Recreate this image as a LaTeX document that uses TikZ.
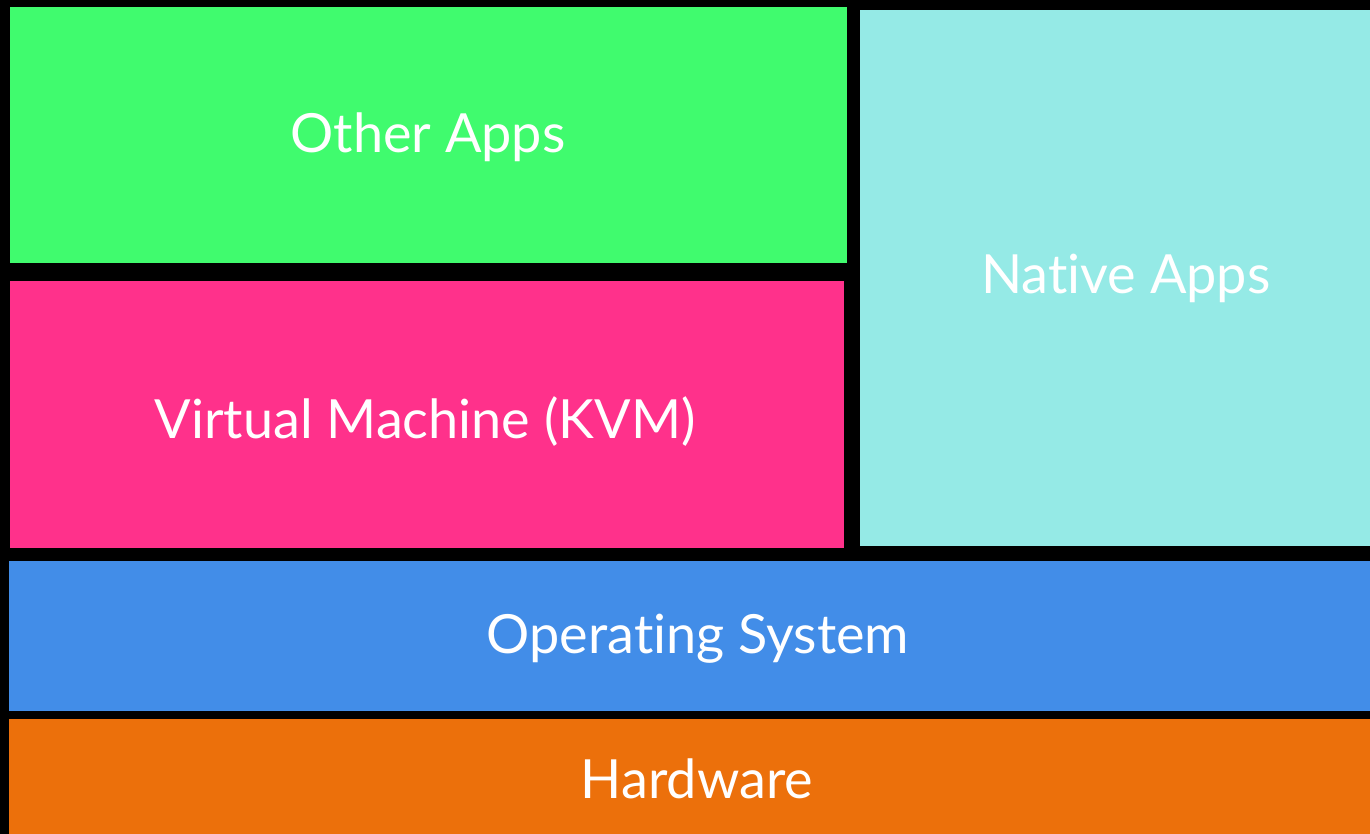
\documentclass[tikz,border=0pt]{standalone}
\usepackage{fontspec}
\setmainfont{Lato}[Ligatures=NoCommon]
\definecolor{appsgreen}{RGB}{64,251,110}
\definecolor{nativecyan}{RGB}{149,234,230}
\definecolor{kvmpink}{RGB}{255,49,139}
\definecolor{osblue}{RGB}{66,141,232}
\definecolor{hworange}{RGB}{236,112,11}
\begin{document}
\begin{tikzpicture}[x=1pt,y=-1pt,
    caption/.style={text=white,inner sep=0pt,anchor=base,
      font=\fontsize{54}{64}\selectfont}]
        % Background
        \fill[black] (0,0) rectangle (1370,834);
        \useasboundingbox (0,0) rectangle (1370,834);
        % Layers
        \fill[appsgreen]  (10,7)   rectangle (847,263);
        \fill[nativecyan] (860,10) rectangle (1370,546);
        \fill[kvmpink]    (10,281) rectangle (844,548);
        \fill[osblue]     (9,561)  rectangle (1370,711);
        \fill[hworange]   (9,719)  rectangle (1370,834);
        % Labels
        \node[caption] (other)  at (428,153)  {Other Apps};
        \node[caption] (native) at (1126,294) {Native Apps};
        \node[caption] (kvm)    at (425,438)  {Virtual Machine (KVM)};
        \node[caption] (os)     at (698,653)  {Operating System};
        \node[caption] (hw)     at (697,798)  {Hardware};
\end{tikzpicture}
\end{document}
